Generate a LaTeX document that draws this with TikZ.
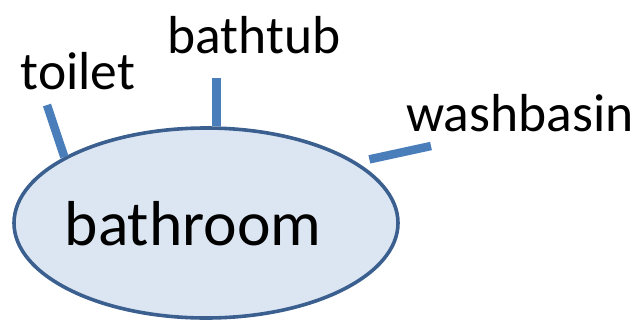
\documentclass[tikz,border=0pt]{standalone}
\usepackage{fontspec}
\setmainfont{Carlito}
\usetikzlibrary{shapes.geometric}
\definecolor{ellfill}{HTML}{DCE6F2}
\definecolor{elldraw}{HTML}{3B6090}
\definecolor{linkblue}{HTML}{4A7EBB}
\tikzset{
  label text/.style={font=\fontsize{53.5}{60}\selectfont, inner sep=0pt, anchor=base},
  link/.style={draw=linkblue, line width=8.5pt},
}
\begin{document}
\begin{tikzpicture}[x=1pt,y=-1pt]
\useasboundingbox (0,0) rectangle (643,325);
\node[ellipse, draw=elldraw, line width=3.6pt, fill=ellfill, minimum width=384pt, minimum height=190pt, inner sep=0pt] (bath) at (206,223) {};
\node[font=\fontsize{63.5}{70}\selectfont, inner sep=0pt, anchor=base] (bathtxt) at (193,245) {bathroom};
\node[label text] (toilet) at (78,89) {toilet};
\node[label text] (tub) at (254,53) {bathtub};
\node[label text] (basin) at (520,131) {washbasin};
\coordinate (tend) at (47,105);
\coordinate (bend) at (216.5,78);
\coordinate (wend) at (431,146);
\draw[link] (tend) -- (bath.155);
\draw[link, line width=9.5pt] (bend) -- (bend |- bath.north);
\draw[link, shorten >=13pt] (wend) -- (bath.22);
\end{tikzpicture}
\end{document}
